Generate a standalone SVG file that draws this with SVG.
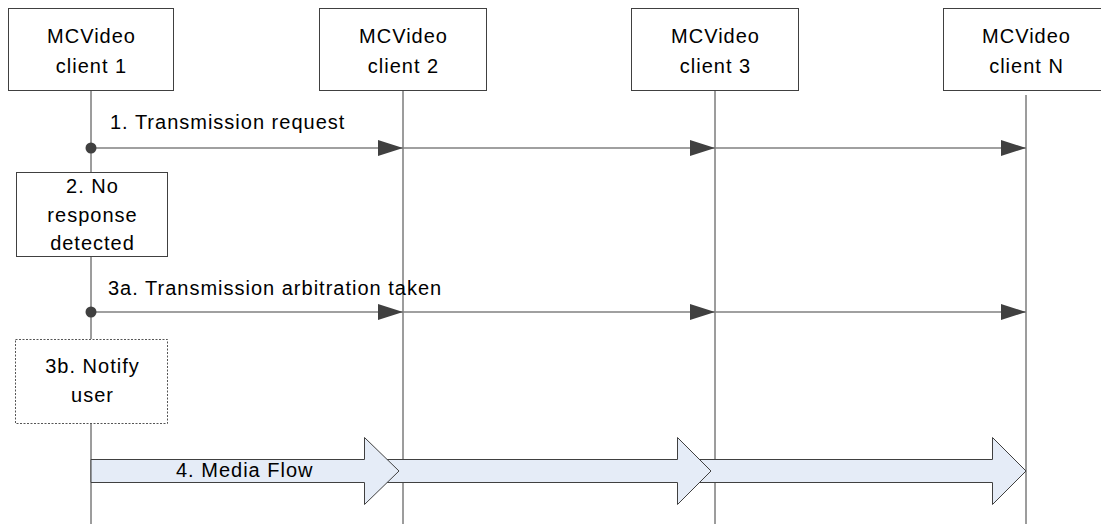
<svg xmlns="http://www.w3.org/2000/svg" width="1101" height="524" viewBox="0 0 1101 524">
<defs>
<style>
.t{font-family:"Liberation Sans",Arial,sans-serif;font-size:20px;letter-spacing:1px;fill:#000}
.c{text-anchor:middle}
.box{fill:#fff;stroke:#404040;stroke-width:1}
.dash{fill:#fff;stroke:#555;stroke-width:1;stroke-dasharray:2 1.5}
.life{stroke:#3a3a3a;stroke-width:1;fill:none}
.msg{stroke:#808080;stroke-width:1.3;fill:none;marker-end:url(#ah)}
.dot{fill:#404040}
.media{fill:#e5ecf7;stroke:#404040;stroke-width:1}
</style>
<marker id="ah" markerUnits="userSpaceOnUse" markerWidth="25" markerHeight="16" refX="25" refY="8" orient="auto">
<path d="M0,0 L25,8 L0,16 z" fill="#404040"/>
</marker>
</defs>
<g id="lifelines">
<line class="life" x1="91" y1="91" x2="91" y2="172"/>
<line class="life" x1="91" y1="256" x2="91" y2="339"/>
<line class="life" x1="91" y1="423" x2="91" y2="524"/>
<line class="life" x1="403" y1="91" x2="403" y2="524"/>
<line class="life" x1="715" y1="91" x2="715" y2="524"/>
<line class="life" x1="1026" y1="95" x2="1026" y2="524"/>
</g>
<g id="client1">
<rect class="box" x="8.5" y="8.5" width="165" height="82"/>
<text class="t c" x="91.5" y="43">MCVideo</text>
<text class="t c" x="91.5" y="73">client 1</text>
</g>
<g id="client2">
<rect class="box" x="319.5" y="8.5" width="167" height="82"/>
<text class="t c" x="403.5" y="43">MCVideo</text>
<text class="t c" x="403.5" y="73">client 2</text>
</g>
<g id="client3">
<rect class="box" x="631.5" y="8.5" width="167" height="82"/>
<text class="t c" x="715.5" y="43">MCVideo</text>
<text class="t c" x="715.5" y="73">client 3</text>
</g>
<g id="clientN">
<rect class="box" x="943.5" y="8.5" width="166" height="82"/>
<text class="t c" x="1026.5" y="43">MCVideo</text>
<text class="t c" x="1026.5" y="73">client N</text>
</g>
<g id="step2">
<rect class="box" x="16.5" y="172.5" width="151" height="84"/>
<text class="t c" x="92.5" y="193">2. No</text>
<text class="t c" x="92.5" y="222">response</text>
<text class="t c" x="92.5" y="250">detected</text>
</g>
<g id="step3b">
<rect class="dash" x="15.5" y="339.5" width="152" height="84"/>
<text class="t c" x="92.5" y="373">3b. Notify</text>
<text class="t c" x="92.5" y="402">user</text>
</g>
<g id="connectors">
<line class="msg" x1="91" y1="148" x2="403" y2="148"/>
<line class="msg" x1="403" y1="148" x2="715" y2="148"/>
<line class="msg" x1="715" y1="148" x2="1026" y2="148"/>
<circle class="dot" cx="91" cy="148" r="5.5"/>
<text class="t" x="110" y="129">1. Transmission request</text>
<line class="msg" x1="91" y1="312" x2="403" y2="312"/>
<line class="msg" x1="403" y1="312" x2="715" y2="312"/>
<line class="msg" x1="715" y1="312" x2="1026" y2="312"/>
<circle class="dot" cx="91" cy="312" r="5.5"/>
<text class="t" x="108" y="295">3a. Transmission arbitration taken</text>
<path class="media" d="M699,459.5 L992.5,459.5 L992.5,437.5 L1026,471 L992.5,504.5 L992.5,482.5 L699,482.5 z"/>
<path class="media" d="M386,459.5 L677.5,459.5 L677.5,437.5 L711,471 L677.5,504.5 L677.5,482.5 L386,482.5 z"/>
<path class="media" d="M91,459.5 L364.5,459.5 L364.5,437.5 L399,471 L364.5,504.5 L364.5,482.5 L91,482.5 z"/>
<text class="t" x="176" y="477">4. Media Flow</text>
</g>
</svg>
